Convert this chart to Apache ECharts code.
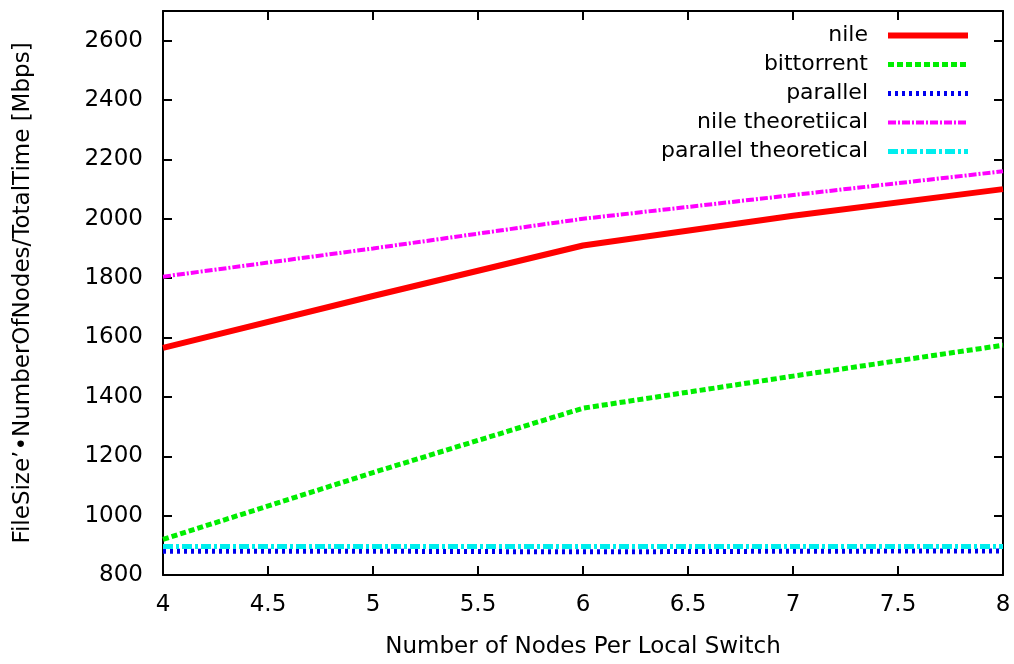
<!DOCTYPE html>
<html>
<head>
<meta charset="utf-8">
<script src="https://cdn.jsdelivr.net/npm/echarts@6/dist/echarts.min.js"></script>
<style>
  html, body { margin: 0; padding: 0; background: #fff; }
  #chart { width: 1014px; height: 664px; }
</style>
</head>
<body>
<div id="chart"></div>
<script>
// nodes per local switch
let nodes = [4, 5, 6, 7, 8];
let nile = [1565, 1740, 1910, 2010, 2100];
let bittorrent = [920, 1145, 1362, 1470, 1574];
let parallel = [880, 880, 878, 880, 881];
let nileTheoretical = [1805, 1900, 2000, 2080, 2160];
let parallelTheoretical = [896, 896, 896, 896, 896];
let seriesNames = ['nile', 'bittorrent', 'parallel', 'nile theoretiical', 'parallel theoretical'];

let font = 'DejaVu Sans, Verdana, sans-serif';

function pairs(ys) {
    return nodes.map((x, i) => [x, ys[i]]);
}

let myChart = echarts.init(document.getElementById('chart'));

let styles = [
    { color: '#ff0000', width: 6, type: 'solid' },
    { color: '#00ee00', width: 5, type: [6, 3] },
    { color: '#0000ee', width: 5, type: [3, 4] },
    { color: '#ff00ff', width: 4, type: [8, 2, 2, 2] },
    { color: '#00eeee', width: 5, type: [10, 3, 3, 3] }
];
let allData = [nile, bittorrent, parallel, nileTheoretical, parallelTheoretical];

let series = seriesNames.map((name, i) => ({
    name: name,
    type: 'line',
    data: pairs(allData[i]),
    symbol: 'none',
    lineStyle: styles[i],
    itemStyle: { color: styles[i].color }
}));

// plain black frame with inward ticks on all four sides
let frameAxis = {
    axisLine: { onZero: false, show: true, lineStyle: { color: '#000', width: 2 } },
    axisTick: { show: true, inside: true, length: 9, lineStyle: { color: '#000', width: 2 } },
    splitLine: { show: false }
};

let option = {
    animation: false,
    grid: { left: 163, right: 11, top: 11, bottom: 89 },
    legend: {
        right: 38,
        top: 17,
        orient: 'vertical',
        align: 'right',
        itemWidth: 80,
        itemHeight: 10,
        itemGap: 2,
        textStyle: { fontFamily: font, fontSize: 22, color: '#000', padding: [0, 15, 0, 0], lineHeight: 27 },
        data: seriesNames.map((name, i) => ({
            name: name,
            itemStyle: { opacity: 0 },
            lineStyle: { width: styles[i].width, type: styles[i].type, color: styles[i].color }
        }))
    },
    xAxis: [{
        type: 'value',
        min: 4,
        max: 8,
        interval: 0.5,
        name: 'Number of Nodes Per Local Switch',
        nameLocation: 'middle',
        nameGap: 61,
        nameTextStyle: { fontFamily: font, fontSize: 23, color: '#000' },
        ...frameAxis,
        axisLabel: { fontFamily: font, fontSize: 23, color: '#000', margin: 19 }
    }, {
        type: 'value', min: 4, max: 8, interval: 0.5, position: 'top',
        ...frameAxis,
        axisLabel: { show: false }
    }],
    yAxis: [{
        type: 'value',
        min: 800,
        max: 2700,
        interval: 200,
        name: 'FileSize\u2019\u2022NumberOfNodes/TotalTime [Mbps]',
        nameLocation: 'middle',
        nameGap: 128,
        nameTextStyle: { fontFamily: font, fontSize: 23, color: '#000' },
        ...frameAxis,
        axisLabel: {
            fontFamily: font, fontSize: 23, color: '#000', margin: 20,
            showMaxLabel: false,
            formatter: (v) => String(v)
        }
    }, {
        type: 'value', min: 800, max: 2700, interval: 200, position: 'right',
        ...frameAxis,
        axisLabel: { show: false }
    }],
    series: series
};
option && myChart.setOption(option);
</script>
</body>
</html>
